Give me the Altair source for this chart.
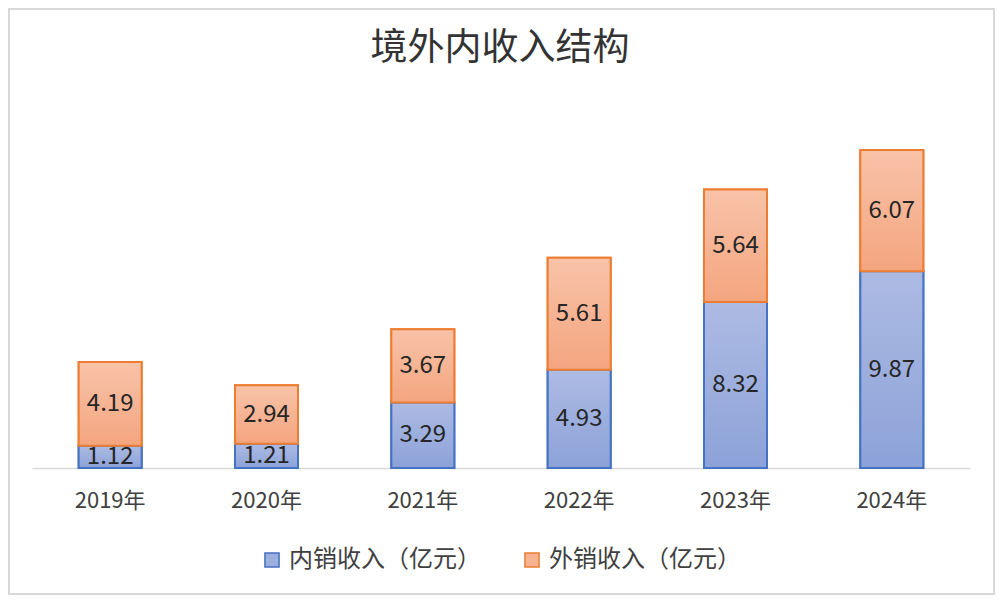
import altair as alt
import pandas as pd

FONT = "Noto Sans CJK SC"

years = ["2019年", "2020年", "2021年", "2022年", "2023年", "2024年"]
domestic = [1.12, 1.21, 3.29, 4.93, 8.32, 9.87]
foreign = [4.19, 2.94, 3.67, 5.61, 5.64, 6.07]
series = ["内销收入（亿元）", "外销收入（亿元）"]
title_text = "境外内收入结构"

long = pd.DataFrame({
    "year": years * 2,
    "series": [series[0]] * len(years) + [series[1]] * len(years),
    "value": domestic + foreign,
    "start": [0.0] * len(years) + domestic,
})
long["end"] = long["start"] + long["value"]
long["mid"] = (long["start"] + long["end"]) / 2
long["label"] = long["value"].map(lambda v: f"{v:.2f}")

fill_range = ["#9cafdd", "#f6b293"]
stroke_range = ["#4472c4", "#ed7d31"]

x_enc = alt.X(
    "year:N", sort=years,
    scale=alt.Scale(paddingInner=0, paddingOuter=0),
    axis=alt.Axis(title=None, labelAngle=0, ticks=False, domainColor="#d9d9d9",
                  domainWidth=1.5, labelFontSize=22, labelColor="#404040",
                  labelPadding=22, labelFont=FONT, grid=False),
)
y_scale = alt.Scale(domain=[0, 18], nice=False)

legend = alt.Legend(
    title=None, orient="none", legendX=228, legendY=439, direction="horizontal",
    symbolType="square", symbolSize=200, symbolStrokeWidth=1.5,
    labelFontSize=24, labelColor="#404040", labelFont=FONT, labelLimit=400,
    labelOffset=5, columnPadding=39, padding=0, symbolOpacity=1,
)

base = alt.Chart(long)

legend_bars = base.mark_bar(size=63, strokeWidth=2).encode(
    x=x_enc,
    y=alt.Y("start:Q", scale=y_scale, axis=None),
    y2="end:Q",
    fill=alt.Fill("series:N", scale=alt.Scale(domain=series, range=fill_range), legend=legend),
    stroke=alt.Stroke("series:N", scale=alt.Scale(domain=series, range=stroke_range), legend=legend),
)

blue_grad = alt.Gradient(gradient="linear", x1=0, x2=0, y1=0, y2=1,
                         stops=[alt.GradientStop(color="#adbbe3", offset=0),
                                alt.GradientStop(color="#8ca2d8", offset=1)])
orange_grad = alt.Gradient(gradient="linear", x1=0, x2=0, y1=0, y2=1,
                           stops=[alt.GradientStop(color="#f8c3a9", offset=0),
                                  alt.GradientStop(color="#f4a57f", offset=1)])

dom_bars = base.transform_filter(alt.datum.series == series[0]).mark_bar(
    size=63, strokeWidth=2, fill=blue_grad, stroke=stroke_range[0]
).encode(x=x_enc, y=alt.Y("start:Q", scale=y_scale, axis=None), y2="end:Q")

for_bars = base.transform_filter(alt.datum.series == series[1]).mark_bar(
    size=63, strokeWidth=2, fill=orange_grad, stroke=stroke_range[1]
).encode(x=x_enc, y=alt.Y("start:Q", scale=y_scale, axis=None), y2="end:Q")

labels = base.mark_text(fontSize=24, font=FONT, color="#262626", baseline="middle").encode(
    x=x_enc, y=alt.Y("mid:Q", scale=y_scale, axis=None), text="label:N"
)

one = pd.DataFrame({"t": [title_text]})
title = alt.Chart(one).mark_text(fontSize=37, font=FONT, color="#333333",
                                 baseline="middle", align="center").encode(
    x=alt.value(468), y=alt.value(-60), text="t:N"
)
border = alt.Chart(one).mark_rect(fill="transparent", stroke="#d9d9d9", strokeWidth=2).encode(
    x=alt.value(-23), x2=alt.value(962), y=alt.value(-100), y2=alt.value(485)
)

chart = alt.layer(border, legend_bars, dom_bars, for_bars, labels, title).properties(
    width=938, height=359,
    autosize=alt.AutoSizeParams(type="none"),
    padding={"left": 24, "top": 101, "right": 25, "bottom": 127},
    background="white",
).configure_view(stroke=None)

chart.save("out.html", embed_options={"renderer": "svg", "actions": False})
